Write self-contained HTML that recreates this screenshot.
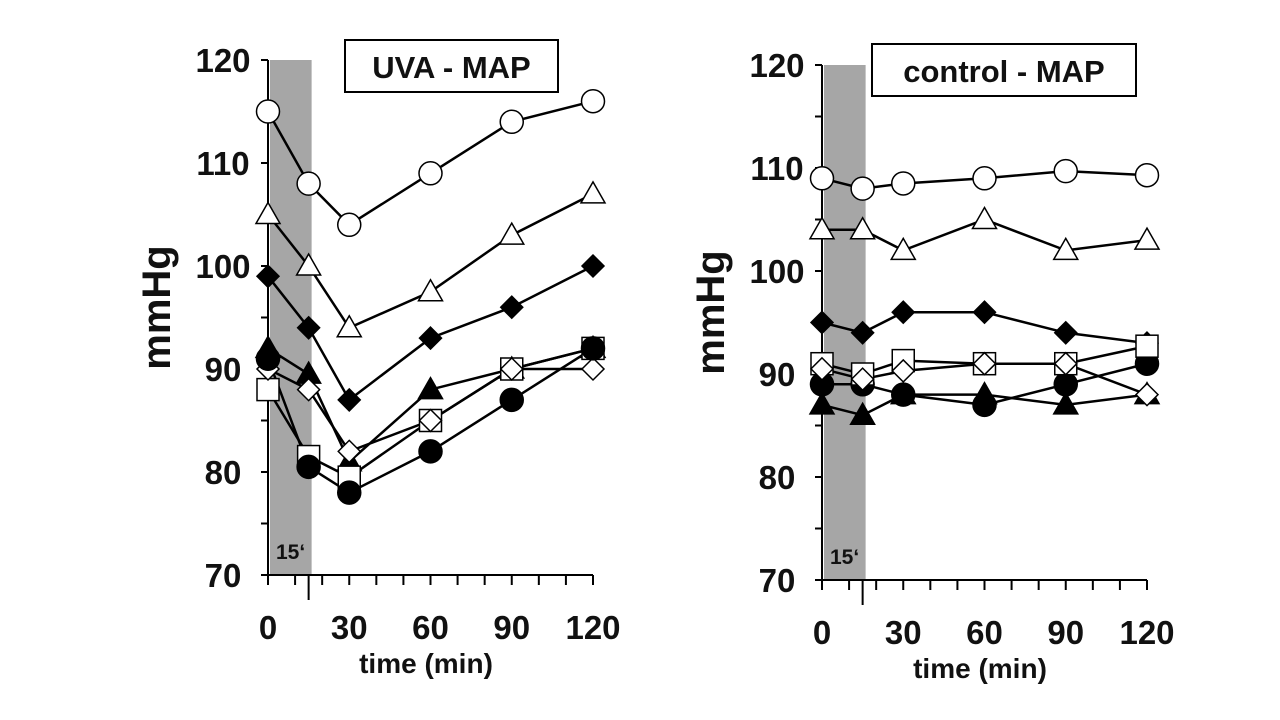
<!DOCTYPE html>
<html><head><meta charset="utf-8"><style>
html,body{margin:0;padding:0;background:#fff;}
svg{display:block;font-family:"Liberation Sans",Arial,sans-serif;font-weight:bold;}
</style></head><body>
<svg id="c" width="1280" height="720" viewBox="0 0 1280 720"></svg>
<script>
const times = [0, 15, 30, 60, 90, 120];
const xTicks = [0, 30, 60, 90, 120];
const yTicks = [70, 80, 90, 100, 110, 120];
// UVA series
const uvaOpenCircle = [115, 108, 104, 109, 114, 116];
const uvaOpenTriangle = [105, 100, 94, 97.5, 103, 107];
const uvaFilledDiamond = [99, 94, 87, 93, 96, 100];
const uvaFilledTriangle = [92, 89.5, 81, 88, 90, 92];
const uvaOpenSquare = [88, 81.5, 79.5, 85, 90, 92];
const uvaOpenDiamond = [90, 88, 82, 85, 90, 90];
const uvaFilledCircle = [91, 80.5, 78, 82, 87, 92];
// control series
const ctlOpenCircle = [109, 108, 108.5, 109, 109.7, 109.3];
const ctlOpenTriangle = [104, 104, 102, 105, 102, 103];
const ctlFilledDiamond = [95, 94, 96, 96, 94, 93];
const ctlOpenSquare = [91, 90, 91.3, 91, 91, 92.7];
const ctlOpenDiamond = [90.5, 89.5, 90.3, 91, 91, 88];
const ctlFilledCircle = [89, 89, 88, 87, 89, 91];
const ctlFilledTriangle = [87, 86, 88, 88, 87, 88];

const NS = "http://www.w3.org/2000/svg";
const svg = document.getElementById('c');
function el(tag, attrs, parent){const e=document.createElementNS(NS,tag);for(const k in attrs)e.setAttribute(k,attrs[k]);(parent||svg).appendChild(e);return e;}

function panel(x0, yTop, title, boxX, boxY, boxW, series, prefix){
  const g = el('g',{});
  
  
  const x1 = x0 + 325, yBot = yTop + 515;
  const xs = t => x0 + t * 325 / 120;
  const ys = v => yBot - (v - 70) * 515 / 50;
  const band = el('rect',{x:xs(0)+2,y:yTop,width:xs(15)-xs(0)+1,height:yBot-yTop,fill:'#a6a6a6'},g);
  
  
  const bl = el('text',{x:xs(0)+8,y:yBot-16,'font-size':21,fill:'#111'},g);
  bl.textContent='15‘';
  
  
  const ya = el('line',{x1:x0,y1:yTop,x2:x0,y2:yBot,stroke:'#000','stroke-width':2},g);
  
  
  const xa = el('line',{x1:x0-3,y1:yBot,x2:x1,y2:yBot,stroke:'#000','stroke-width':2},g);
  
  
  for(let v=70; v<=120; v+=5){
    el('line',{x1:x0-7,y1:ys(v),x2:x0,y2:ys(v),stroke:'#000','stroke-width':2},g);
  }
  for(let t=0; t<=120; t+=10){
    el('line',{x1:xs(t),y1:yBot,x2:xs(t),y2:yBot+10,stroke:'#000','stroke-width':2},g);
  }
  el('line',{x1:xs(15),y1:yBot,x2:xs(15),y2:yBot+25,stroke:'#000','stroke-width':2},g);
  yTicks.forEach(v=>{
    const t=el('text',{x:x0-45,y:ys(v)+12,'font-size':33,'text-anchor':'middle',fill:'#111'},g);
    t.textContent=v;
    
    
  });
  xTicks.forEach(v=>{
    const t=el('text',{x:xs(v),y:yBot+64,'font-size':33,'text-anchor':'middle',fill:'#111'},g);
    t.textContent=v;
    
    
  });
  const xt=el('text',{x:x0+158,y:yBot+98,'font-size':28,'text-anchor':'middle',fill:'#111'},g);
  xt.textContent='time (min)';
  
  
  const yt=el('text',{x:0,y:0,'font-size':40,'text-anchor':'middle',fill:'#111',transform:`translate(${x0-98},${(yTop+yBot)/2-10}) rotate(-90)`},g);
  yt.textContent='mmHg';
  
  
  const tb=el('rect',{x:boxX,y:boxY,width:boxW,height:52,fill:'#fff',stroke:'#000','stroke-width':2},g);
  
  
  const tt=el('text',{x:boxX+boxW/2,y:boxY+38,'font-size':31,'text-anchor':'middle',fill:'#111'},g);
  tt.textContent=title;
  
  
  series.forEach(s=>{
    const pts = s.vals.map((v,i)=>xs(times[i])+','+ys(v)).join(' ');
    const pl=el('polyline',{points:pts,fill:'none',stroke:'#000','stroke-width':2.5},g);
    
    
  });
  series.forEach(s=>{
    s.vals.forEach((v,i)=>{
      const cx=xs(times[i]), cy=ys(v);
      const fill = s.filled ? '#000' : '#fff';
      let m;
      const a={fill:fill,stroke:'#000','stroke-width':1.5};
      if(s.shape==='circle'){m=el('circle',Object.assign({cx:cx,cy:cy,r:11.5},a),g);}
      else if(s.shape==='square'){m=el('rect',Object.assign({x:cx-11,y:cy-11,width:22,height:22},a),g);}
      else if(s.shape==='triangle'){m=el('polygon',Object.assign({points:`${cx},${cy-12} ${cx+12},${cy+9} ${cx-12},${cy+9}`},a),g);}
      else {m=el('polygon',Object.assign({points:`${cx},${cy-11} ${cx+11},${cy} ${cx},${cy+11} ${cx-11},${cy}`},a),g);}
      
      
    });
  });
}

panel(268, 60, 'UVA - MAP', 345, 40, 213, [
  {name:'open-circle',vals:uvaOpenCircle,shape:'circle',filled:false},
  {name:'open-triangle',vals:uvaOpenTriangle,shape:'triangle',filled:false},
  {name:'filled-diamond',vals:uvaFilledDiamond,shape:'diamond',filled:true},
  {name:'filled-triangle',vals:uvaFilledTriangle,shape:'triangle',filled:true},
  {name:'open-square',vals:uvaOpenSquare,shape:'square',filled:false},
  {name:'open-diamond',vals:uvaOpenDiamond,shape:'diamond',filled:false},
  {name:'filled-circle',vals:uvaFilledCircle,shape:'circle',filled:true}
], 'uva');
panel(822, 65, 'control - MAP', 872, 44, 264, [
  {name:'open-circle',vals:ctlOpenCircle,shape:'circle',filled:false},
  {name:'open-triangle',vals:ctlOpenTriangle,shape:'triangle',filled:false},
  {name:'filled-diamond',vals:ctlFilledDiamond,shape:'diamond',filled:true},
  {name:'filled-triangle',vals:ctlFilledTriangle,shape:'triangle',filled:true},
  {name:'filled-circle',vals:ctlFilledCircle,shape:'circle',filled:true},
  {name:'open-square',vals:ctlOpenSquare,shape:'square',filled:false},
  {name:'open-diamond',vals:ctlOpenDiamond,shape:'diamond',filled:false}
], 'control');
</script>
</body></html>
